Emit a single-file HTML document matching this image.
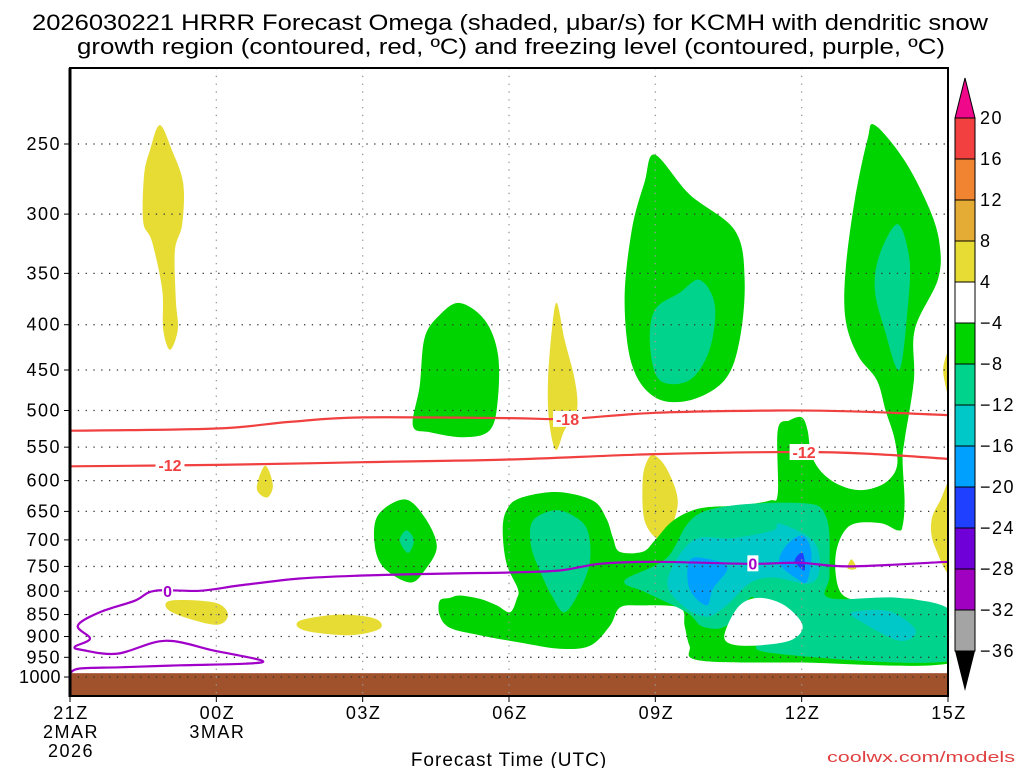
<!DOCTYPE html>
<html><head><meta charset="utf-8"><style>
html,body{margin:0;padding:0;background:#fff;}
svg{display:block;font-family:"Liberation Sans",sans-serif;}
</style></head><body>
<svg id="chart" width="1024" height="768" viewBox="0 0 1024 768" xmlns="http://www.w3.org/2000/svg">
<text x="510" y="30" text-anchor="middle" font-size="22" textLength="956" lengthAdjust="spacingAndGlyphs">2026030221 HRRR Forecast Omega (shaded, μbar/s) for KCMH with dendritic snow</text>
<text x="511" y="54" text-anchor="middle" font-size="22" textLength="868" lengthAdjust="spacingAndGlyphs">growth region (contoured, red, ºC) and freezing level (contoured, purple, ºC)</text>
<g id="plot"></g>
<g id="axes"></g>
<g id="cbar"></g>
<text x="509" y="766" text-anchor="middle" font-size="19" letter-spacing="1">Forecast Time (UTC)</text>
<text x="1015" y="762" text-anchor="end" font-size="15" fill="#e04040" textLength="188" lengthAdjust="spacingAndGlyphs">coolwx.com/models</text>
</svg>
<script>
// ---- data (hours since 21Z, pressure hPa) ----
const pressureTicks=[250,300,350,400,450,500,550,600,650,700,750,800,850,900,950,1000];
const timeTickHours=[0,3,6,9,12,15,18];
const timeTickLabels=[["21Z","2MAR","2026"],["00Z","3MAR"],["03Z"],["06Z"],["09Z"],["12Z"],["15Z"]];
const bandLevels=[20,16,12,8,4,-4,-8,-12,-16,-20,-24,-28,-32,-36];
const bandColors=["#f24040","#f08430","#e4ac34","#e6dc34","#ffffff","#00d400","#00d48c","#00c8c8","#00a0ff","#2040ff","#7000d8","#a000c0","#a4a4a4"];
const surfacePressure=990;
const yellowA=[[1.84,238],[2.09,254],[2.32,277],[2.30,308],[2.15,330],[2.17,375],[2.21,405],[2.05,427],[1.91,405],[1.89,365],[1.68,322],[1.50,306],[1.52,271],[1.64,254]];
const yellowB=[[4.0,577],[4.16,607],[4.04,627],[3.83,612]];
const yellowC=[[2.05,820],[2.97,824],[3.24,851],[2.97,873],[2.09,845]];
const yellowD=[[4.71,864],[5.53,850],[6.25,859],[6.35,882],[5.74,897],[4.81,886]];
const yellowE=[[9.98,378],[10.14,416],[10.35,462],[10.39,500],[10.14,526],[9.96,554],[9.82,513],[9.80,462],[9.88,405]];
const yellowF=[[11.99,562],[12.25,584],[12.46,632],[12.3,683],[12.09,701],[11.78,666],[11.74,599],[11.84,569]];
const yellowG=[[18.1,600],[17.84,632],[17.66,666],[17.72,710],[18.1,765]];
const yellowH=[[18.1,424],[17.9,450],[18.1,495]];
const yellowI=[[16.02,736],[16.12,754],[15.94,754]];
const greenA=[[7.99,378],[8.5,395],[8.77,431],[8.77,486],[8.61,526],[8.09,536],[7.38,529],[7.03,520],[7.17,469],[7.27,414],[7.58,390]];
const greenB=[[6.86,630],[7.27,660],[7.52,712],[7.27,758],[6.97,782],[6.45,754],[6.25,712],[6.31,657]];
const tealB=[[6.9,683],[7.05,701],[6.93,724],[6.76,701]];
const greenC=[[11.99,257],[12.7,285],[13.63,313],[13.83,355],[13.73,416],[13.42,462],[12.7,487],[11.99,483],[11.52,444],[11.37,375],[11.52,312],[11.78,276]];
const tealC=[[12.91,356],[13.22,380],[13.11,427],[12.7,462],[12.09,462],[11.89,422],[11.99,385],[12.5,368]];
const greenE=[[7.58,820],[7.79,814],[7.99,809],[8.4,816],[8.75,830],[9.02,845],[9.16,816],[9.18,795],[8.95,745],[8.87,683],[8.95,648],[9.22,628],[9.98,618],[10.72,632],[11.0,663],[11.13,696],[11.27,722],[11.74,722],[11.99,701],[12.36,666],[12.91,645],[13.73,640],[14.34,632],[14.51,620],[14.51,526],[14.75,513],[15.0,509],[15.12,526],[15.2,561],[15.41,587],[15.78,607],[16.23,615],[16.7,604],[16.95,579],[16.91,540],[16.72,500],[16.54,462],[16.15,433],[15.9,395],[15.9,347],[16.09,289],[16.35,247],[16.5,238],[17.11,261],[17.62,296],[17.83,325],[17.79,356],[17.32,405],[17.3,462],[17.11,540],[17.07,569],[17.11,632],[17.07,675],[16.97,683],[16.6,670],[15.98,675],[15.7,727],[15.78,799],[16.19,820],[16.86,816],[17.42,820],[18.1,860],[18.1,963],[14.96,963],[12.91,958],[12.7,922],[12.6,875],[12.5,835],[11.68,830],[11.27,835],[11.07,875],[10.66,922],[10.04,929],[9.22,914],[8.4,897],[7.79,880],[7.58,852]];
const tealD=[[16.97,308],[17.21,338],[17.17,385],[17.0,450],[16.7,405],[16.5,365],[16.6,333]];
const tealE=[[9.94,648],[10.35,659],[10.61,683],[10.66,739],[10.45,799],[10.14,845],[9.88,810],[9.63,758],[9.45,710],[9.49,666]];
const tealF=[[11.37,778],[12.23,734],[12.97,651],[14.96,636],[15.51,661],[15.57,766],[15.57,814],[17.0,814],[18.1,845],[18.1,958],[14.49,941],[14.08,904],[14.0,812],[13.46,875],[12.97,877],[12.64,845],[11.82,803]];
const cyanF=[[12.25,778],[12.77,701],[13.59,697],[14.41,683],[14.55,671],[15.23,701],[15.37,752],[15.16,784],[14.41,772],[13.93,784],[13.46,830],[13.05,855],[12.56,830]];
const cyanG=[[16.04,845],[16.8,843],[17.34,886],[17.0,910],[16.19,864]];
const blueF=[[12.7,739],[13.05,735],[13.48,752],[13.18,795],[13.05,830],[12.7,795]];
const blueG=[[14.69,710],[15.02,692],[15.2,724],[15.12,778],[14.96,778],[14.55,745]];
const darkBlueG=[[14.86,739],[15.02,724],[15.06,758]];
const holeF=[[13.44,886],[13.73,830],[14.14,814],[14.65,830],[15.02,875],[14.75,910],[13.93,922],[13.48,914]];
const shadedRegions=[[3,yellowA],[3,yellowB],[3,yellowC],[3,yellowD],[3,yellowE],[3,yellowF],[3,yellowG],[3,yellowH],[3,yellowI],
 [5,greenA],[5,greenB],[6,tealB],[5,greenC],[6,tealC],[5,greenE],[6,tealD],[6,tealE],[6,tealF],[7,cyanF],[7,cyanG],[8,blueF],[8,blueG],[9,darkBlueG],[4,holeF]];
const dgzMinus18=[[0,527],[3,524],[4.5,515],[6,509],[9,510],[10.2,511],[12,503],[14.5,500],[16,501],[18,506]];
const dgzMinus12=[[0,578],[3,576],[6,572],[9,568],[12,560],[15,557],[16.5,560],[18,567]];
const freezing0=[[0,990],[0.2,978],[1.02,975],[2.25,970],[3.59,966],[3.93,958],[2.97,934],[1.95,910],[0.98,941],[0.25,932],[0.1,924],[0.41,905],[0.16,875],[0.61,845],[1.33,820],[1.74,799],[2.66,799],[3.48,788],[4.71,774],[6.0,768],[7.79,764],[9.0,762],[10.04,758],[10.86,745],[12.0,741],[13.93,745],[14.96,743],[15.98,750],[18,741]];
const contourLabels=[["-18",10.2,511,"#f04040"],["-12",2.05,576,"#f04040"],["-12",15.05,557,"#f04040"],["0",2.0,799,"#a000c8"],["0",14.0,744,"#a000c8"]];

const X0=70,X1=948,Y0=68,Y1=696;
const xS=h=>X0+(X1-X0)*h/18;
const yS=p=>144+384.5*Math.log(p/250);
const NS="http://www.w3.org/2000/svg";
function mk(tag,attrs,parent){const e=document.createElementNS(NS,tag);for(const k in attrs)e.setAttribute(k,attrs[k]);parent.appendChild(e);return e;}
function smoothPath(pts,closed){
  const P=pts.map(d=>[xS(d[0]),yS(d[1])]);const n=P.length;let s="M"+P[0][0].toFixed(1)+","+P[0][1].toFixed(1);
  const g=i=>closed?P[(i+n)%n]:P[Math.max(0,Math.min(n-1,i))];
  const m=closed?n:n-1;
  for(let i=0;i<m;i++){const p0=g(i-1),p1=g(i),p2=g(i+1),p3=g(i+2);
    const c1=[p1[0]+(p2[0]-p0[0])/6,p1[1]+(p2[1]-p0[1])/6],c2=[p2[0]-(p3[0]-p1[0])/6,p2[1]-(p3[1]-p1[1])/6];
    s+=`C${c1[0].toFixed(1)},${c1[1].toFixed(1)} ${c2[0].toFixed(1)},${c2[1].toFixed(1)} ${p2[0].toFixed(1)},${p2[1].toFixed(1)}`;}
  return s+(closed?"Z":"");
}
const plot=document.getElementById('plot');
mk('clipPath',{id:'clip'},plot).appendChild(document.createElementNS(NS,'rect'));
const cr=plot.querySelector('#clip rect');cr.setAttribute('x',X0);cr.setAttribute('y',Y0);cr.setAttribute('width',X1-X0);cr.setAttribute('height',Y1-Y0);
const field=mk('g',{'clip-path':'url(#clip)'},plot);


shadedRegions.forEach((r,i)=>{const e=mk('path',{d:smoothPath(r[1],true),fill:bandColors[r[0]]},field);
  
  });
const gr=mk('rect',{x:X0,y:yS(surfacePressure),width:X1-X0,height:Y1-yS(surfacePressure),fill:'#a0522d'},field);


pressureTicks.forEach(p=>{const e=mk('line',{x1:X0,x2:X1,y1:yS(p),y2:yS(p),stroke:'#333','stroke-width':1.3,'stroke-dasharray':'1.3 6.5'},plot);
  
  });
timeTickHours.slice(1,6).forEach(h=>{const e=mk('line',{x1:xS(h),x2:xS(h),y1:Y0,y2:Y1,stroke:'#999','stroke-width':1.3,'stroke-dasharray':'1.3 6.5'},plot);
  
  });
const lines=mk('g',{'clip-path':'url(#clip)',fill:'none','stroke-width':2.2},plot);
[[dgzMinus18,'#f04040','dgz-contour-minus18'],[dgzMinus12,'#f04040','dgz-contour-minus12'],[freezing0,'#a000c8','freezing-level-contour']].forEach(c=>{
  const e=mk('path',{d:smoothPath(c[0],false),stroke:c[1]},lines);
  
  });
contourLabels.forEach(l=>{const x=xS(l[1]),y=yS(l[2]);const w=l[0].length*9+2;
  mk('rect',{x:x-w/2,y:y-8,width:w,height:16,fill:'#fff'},plot);
  const t=mk('text',{x:x,y:y+6,'text-anchor':'middle','font-size':16,'font-weight':'bold',fill:l[3]},plot);t.textContent=l[0];
  
  });
const ax=document.getElementById('axes');
mk('rect',{x:X0,y:Y0,width:X1-X0,height:Y1-Y0,fill:'none',stroke:'#000','stroke-width':2},ax);
mk('line',{x1:X0,x2:X0,y1:Y0,y2:Y1+1,stroke:'#000','stroke-width':3},ax);
pressureTicks.forEach(p=>{mk('line',{x1:X0-6,x2:X0,y1:yS(p),y2:yS(p),stroke:'#000','stroke-width':1},ax);
  const t=mk('text',{x:X0-9,y:yS(p)+6,'text-anchor':'end','font-size':18,'letter-spacing':p>=1000?0.5:1.5},ax);t.textContent=p;
  
  });
timeTickHours.forEach((h,i)=>{mk('line',{x1:xS(h),x2:xS(h),y1:Y1,y2:Y1+6,stroke:'#000','stroke-width':1},ax);
  timeTickLabels[i].forEach((s,j)=>{const t=mk('text',{x:xS(h)+1,y:719+j*19,'text-anchor':'middle','font-size':18,'letter-spacing':1.5},ax);t.textContent=s;
    
    });});
const cb=document.getElementById('cbar');const CX=955,CW=20;
const cy=i=>118+i*(651-118)/(bandLevels.length-1);
bandColors.forEach((c,i)=>{const e=mk('rect',{x:CX,y:cy(i),width:CW,height:cy(i+1)-cy(i),fill:c,stroke:'#000','stroke-width':1},cb);
  
  });
mk('polygon',{points:`${CX},118 ${CX+CW},118 ${CX+CW/2},78`,fill:'#f0088a',stroke:'#000','stroke-width':1},cb);
mk('polygon',{points:`${CX},651 ${CX+CW},651 ${CX+CW/2},691`,fill:'#000'},cb);
bandLevels.forEach((v,i)=>{const t=mk('text',{x:980,y:cy(i)+6,'font-size':18,'letter-spacing':1.5},cb);t.textContent=v<0?'\u2212'+(-v):v;
  
  });
</script>
</body></html>
